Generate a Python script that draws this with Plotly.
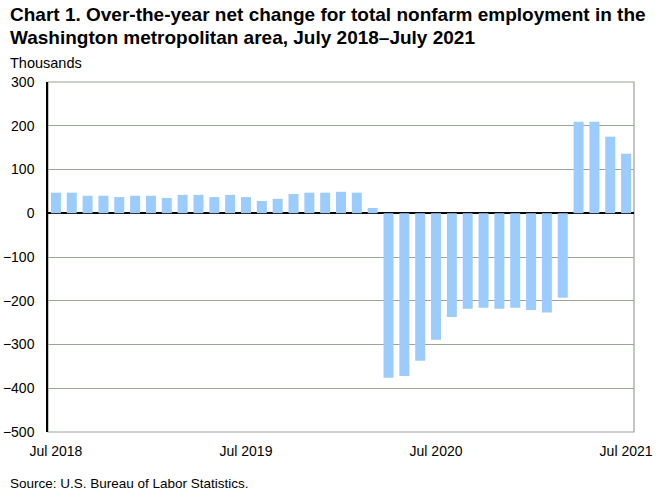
import plotly.graph_objects as go

months = [
    "Jul 2018", "Aug 2018", "Sep 2018", "Oct 2018", "Nov 2018", "Dec 2018",
    "Jan 2019", "Feb 2019", "Mar 2019", "Apr 2019", "May 2019", "Jun 2019",
    "Jul 2019", "Aug 2019", "Sep 2019", "Oct 2019", "Nov 2019", "Dec 2019",
    "Jan 2020", "Feb 2020", "Mar 2020", "Apr 2020", "May 2020", "Jun 2020",
    "Jul 2020", "Aug 2020", "Sep 2020", "Oct 2020", "Nov 2020", "Dec 2020",
    "Jan 2021", "Feb 2021", "Mar 2021", "Apr 2021", "May 2021", "Jun 2021",
    "Jul 2021",
]
net_change = [
    47, 47, 40, 40, 37, 40, 40, 35, 42, 42, 37, 42,
    37, 28, 33, 44, 47, 47, 49, 47, 12, -376, -372, -337,
    -289, -237, -218, -216, -218, -216, -221, -227, -193, 209, 209, 175,
    136,
]
x_tick_labels = ["Jul 2018", "Jul 2019", "Jul 2020", "Jul 2021"]
y_ticks = [300, 200, 100, 0, -100, -200, -300, -400, -500]
title_lines = [
    "Chart 1. Over-the-year net change for total nonfarm employment in the",
    "Washington metropolitan area, July 2018\u2013July 2021",
]

FONT = "Liberation Sans, Arial, sans-serif"
GRID = "#9aa498"

PLOT_TOP, PLOT_BOTTOM, PLOT_LEFT, PLOT_W = 82, 432, 48, 586


def py(p):
    return (PLOT_BOTTOM - p) / (PLOT_BOTTOM - PLOT_TOP)


def px(p):
    return (p - PLOT_LEFT) / PLOT_W


fig = go.Figure(
    go.Bar(
        x=months,
        y=net_change,
        marker=dict(color="#9ccbfd", line=dict(width=0)),
        hoverinfo="x+y",
    )
)

annotations = [
    dict(text="<b>" + title_lines[0] + "</b>", xref="paper", yref="paper",
         x=px(8), xanchor="left", y=py(14.5), yanchor="middle",
         showarrow=False, font=dict(family=FONT, size=19)),
    dict(text="<b>" + title_lines[1] + "</b>", xref="paper", yref="paper",
         x=px(8), xanchor="left", y=py(37.5), yanchor="middle",
         showarrow=False, font=dict(family=FONT, size=19)),
    dict(text="Thousands", xref="paper", yref="paper",
         x=px(8), xanchor="left", y=py(73), yanchor="bottom",
         showarrow=False, font=dict(family=FONT, size=14.5)),
    dict(text="Source: U.S. Bureau of Labor Statistics.", xref="paper", yref="paper",
         x=px(8), xanchor="left", y=py(474), yanchor="top",
         showarrow=False, font=dict(family=FONT, size=13.5)),
]

fig.update_layout(
    width=659,
    height=494,
    margin=dict(l=48, r=25, t=82, b=62, autoexpand=False),
    paper_bgcolor="white",
    plot_bgcolor="white",
    bargap=0.37,
    showlegend=False,
    font=dict(family=FONT, size=14, color="black"),
    shapes=[
        dict(type="rect", xref="paper", yref="paper", x0=0, x1=1, y0=0, y1=1,
             line=dict(color=GRID, width=1.2), layer="below"),
    ],
    annotations=annotations,
)

fig.update_xaxes(
    type="category",
    tickmode="array",
    tickvals=x_tick_labels,
    ticktext=x_tick_labels,
    showgrid=False,
    showline=False,
    ticks="",
    automargin=False,
    ticklabelstandoff=9,
    tickfont=dict(family=FONT, size=14),
)

fig.update_yaxes(
    range=[-500, 300],
    tickmode="array",
    tickvals=y_ticks,
    showgrid=True,
    gridcolor=GRID,
    gridwidth=1.2,
    zeroline=True,
    zerolinecolor="black",
    zerolinewidth=1.6,
    showline=True,
    linecolor="black",
    linewidth=1.5,
    ticks="",
    automargin=False,
    ticklabelstandoff=9,
    tickfont=dict(family=FONT, size=14),
)

fig.write_html("out.html", config={"displayModeBar": False})

with open("out.html", "r", encoding="utf-8") as f:
    html = f.read()
html = html.replace(
    "<head>",
    "<head><style>html,body{margin:0;padding:0;overflow:hidden;}</style>",
    1,
)
with open("out.html", "w", encoding="utf-8") as f:
    f.write(html)
